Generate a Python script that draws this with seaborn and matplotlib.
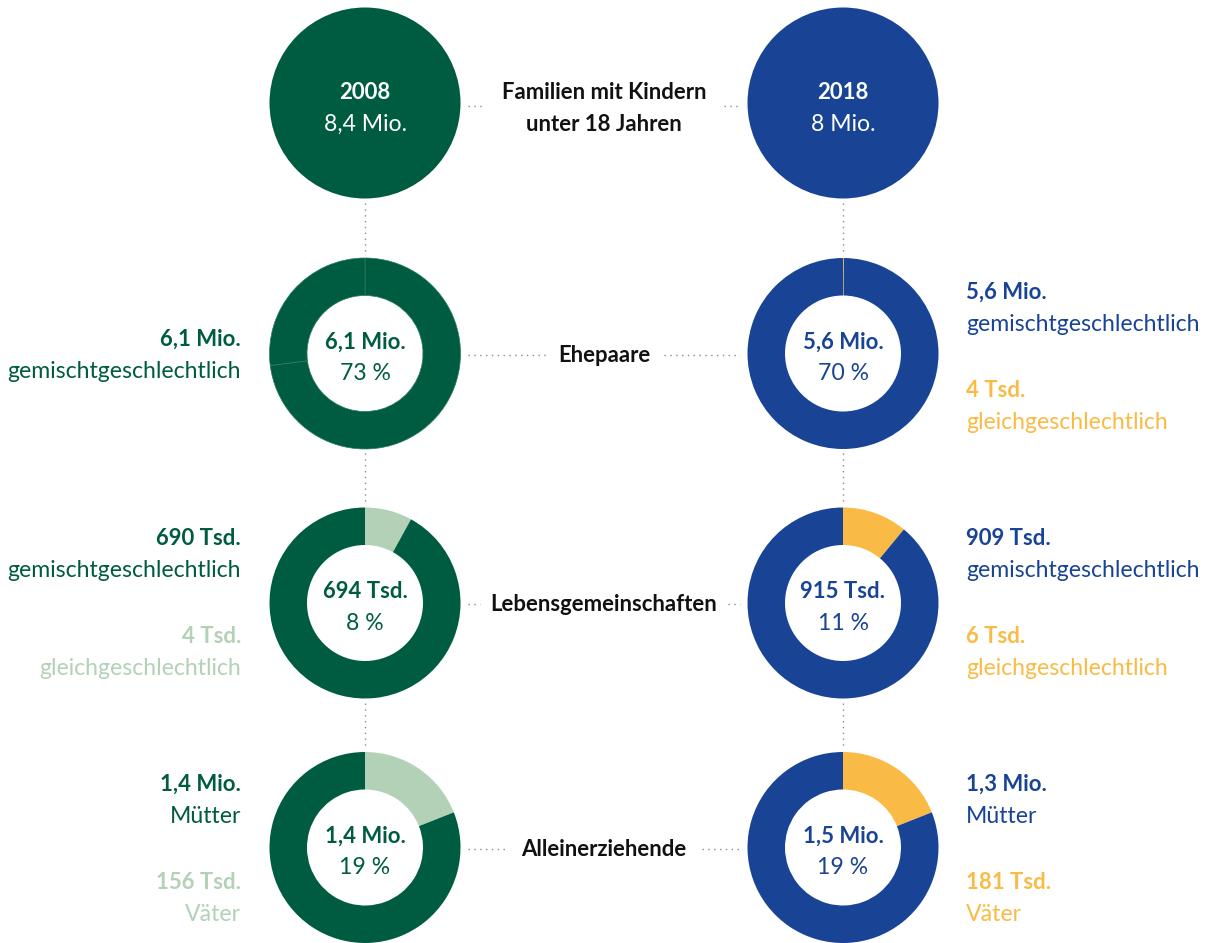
import matplotlib
matplotlib.use("Agg")
import matplotlib.pyplot as plt
from matplotlib.patches import Wedge, Circle
import seaborn as sns

# ---------------- data ----------------
years = ["2008", "2018"]
totals = ["8,4 Mio.", "8 Mio."]
top_title = ["Familien mit Kindern", "unter 18 Jahren"]
categories = ["Ehepaare", "Lebensgemeinschaften", "Alleinerziehende"]

center_2008 = ["6,1 Mio.", "694 Tsd.", "1,4 Mio."]
share_2008 = [73, 8, 19]
center_2018 = ["5,6 Mio.", "915 Tsd.", "1,5 Mio."]
share_2018 = [70, 11, 19]

# highlighted (light) segment, percent of the ring
highlight_2008 = [0.0, 8, 19]
highlight_2018 = [0.15, 11, 19]

main_label = ["gemischtgeschlechtlich", "gemischtgeschlechtlich", "Mütter"]
minor_label = ["gleichgeschlechtlich", "gleichgeschlechtlich", "Väter"]
main_2008 = ["6,1 Mio.", "690 Tsd.", "1,4 Mio."]
minor_2008 = [None, "4 Tsd.", "156 Tsd."]
main_2018 = ["5,6 Mio.", "909 Tsd.", "1,3 Mio."]
minor_2018 = ["4 Tsd.", "6 Tsd.", "181 Tsd."]

# ---------------- style ----------------
sns.set_theme(style="white")
plt.rcParams["font.family"] = ["Lato", "DejaVu Sans"]

GREEN = "#005C40"
LGREEN = "#B3D1B7"
BLUE = "#194496"
YELLOW = "#F9BB45"
DOT = "#8A8A8A"
FS = 16.6
FS_B = 15.9

W, H = 1206, 943
fig = plt.figure(figsize=(W / 100, H / 100), dpi=100)
ax = fig.add_axes([0, 0, 1, 1])
ax.set_xlim(0, W)
ax.set_ylim(H, 0)
ax.set_aspect("equal")
ax.axis("off")

xs = [365, 843]
row_y = [103, 353.5, 603, 847.5]
R = 95.5
r_in = 58
mid_x = 604
cap = 8.0  # half cap height offset for baseline placement


def txt(x, y, s, color, bold=False, ha="center"):
    ax.text(x, y + cap, s, color=color, fontsize=FS_B if bold else FS,
            ha=ha, va="baseline", fontweight="bold" if bold else "normal")


def dots(x0, y0, x1, y1):
    ax.plot([x0, x1], [y0, y1], color=DOT, lw=1.0, linestyle=(0, (1, 3.2)),
            solid_capstyle="butt", dash_capstyle="butt")


# vertical dotted connectors
for x in xs:
    for i in range(3):
        dots(x, row_y[i] + R + 4, x, row_y[i + 1] - R - 4)

# top circles
cols = [GREEN, BLUE]
for x, yr, tot, c in zip(xs, years, totals, cols):
    ax.add_patch(Circle((x, row_y[0]), R, color=c, lw=0))
    txt(x, row_y[0] - 12, yr, "white", bold=True)
    txt(x, row_y[0] + 20, tot, "white")

txt(mid_x, row_y[0] - 12, top_title[0], "#111111", bold=True)
txt(mid_x, row_y[0] + 20, top_title[1], "#111111", bold=True)
dots(468, row_y[0] + 3, 484, row_y[0] + 3)
dots(724, row_y[0] + 3, 740, row_y[0] + 3)

# donuts
mid_gaps = [(548, 664), (480, 728), (505, 702)]
for i, cat in enumerate(categories):
    y = row_y[i + 1]
    for x, dark, light, hl, cv, sh in [
        (xs[0], GREEN, LGREEN, highlight_2008[i], center_2008[i], share_2008[i]),
        (xs[1], BLUE, YELLOW, highlight_2018[i], center_2018[i], share_2018[i]),
    ]:
        start = -90.0
        split = start + 360.0 * hl / 100.0
        if hl > 0:
            ax.add_patch(Wedge((x, y), R, start, split, width=R - r_in,
                               facecolor=light, edgecolor="none"))
            ax.add_patch(Wedge((x, y), R, split, 270, width=R - r_in,
                               facecolor=dark, edgecolor="none"))
        else:
            sp = start + 360.0 * sh / 100.0
            ax.add_patch(Wedge((x, y), R, start, sp, width=R - r_in,
                               facecolor=dark, edgecolor="#2E7A60", lw=0.5))
            ax.add_patch(Wedge((x, y), R, sp, 270, width=R - r_in,
                               facecolor=dark, edgecolor="#2E7A60", lw=0.5))
        txt(x, y - 13, cv, dark, bold=True)
        txt(x, y + 19, f"{sh} %", dark)
    txt(mid_x, y, cat, "#111111", bold=True)
    dots(468, y + 1, mid_gaps[i][0], y + 1)
    dots(mid_gaps[i][1], y + 1, 740, y + 1)

# side labels
LX, RX = 241, 966
# Ehepaare
txt(LX, 338, main_2008[0], GREEN, bold=True, ha="right")
txt(LX, 370, main_label[0], GREEN, ha="right")
txt(RX, 291, main_2018[0], BLUE, bold=True, ha="left")
txt(RX, 323, main_label[0], BLUE, ha="left")
txt(RX, 389, minor_2018[0], YELLOW, bold=True, ha="left")
txt(RX, 421, minor_label[0], YELLOW, ha="left")
# Lebensgemeinschaften & Alleinerziehende
for i, (y1, y2) in zip([1, 2], [(537, 635), (783, 881)]):
    txt(LX, y1, main_2008[i], GREEN, bold=True, ha="right")
    txt(LX, y1 + 32, main_label[i], GREEN, ha="right")
    txt(LX, y2, minor_2008[i], LGREEN, bold=True, ha="right")
    txt(LX, y2 + 32, minor_label[i], LGREEN, ha="right")
    txt(RX, y1, main_2018[i], BLUE, bold=True, ha="left")
    txt(RX, y1 + 32, main_label[i], BLUE, ha="left")
    txt(RX, y2, minor_2018[i], YELLOW, bold=True, ha="left")
    txt(RX, y2 + 32, minor_label[i], YELLOW, ha="left")

fig.savefig("out.png", dpi=100, facecolor="white")
